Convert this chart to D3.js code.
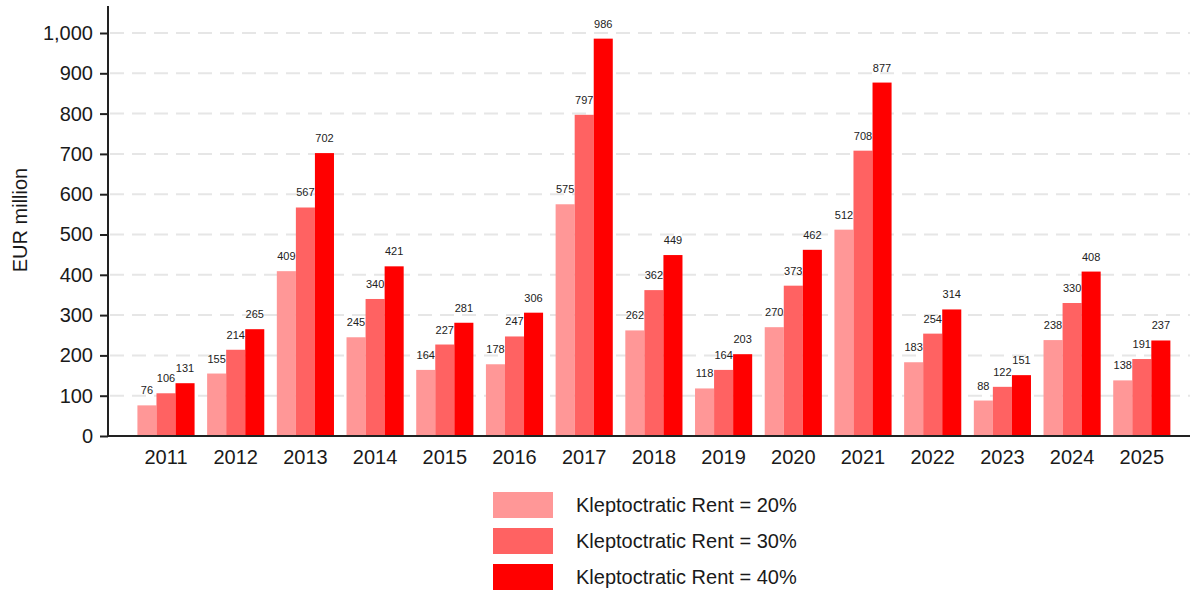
<!DOCTYPE html>
<html>
<head>
<meta charset="utf-8">
<script src="https://cdn.jsdelivr.net/npm/d3@7"></script>
<style>
  body { margin: 0; background: #fff; }
  svg { font-family: Arial, "Liberation Sans", sans-serif; }
</style>
</head>
<body>
<div id="chart"></div>
<script>
const years = ["2011","2012","2013","2014","2015","2016","2017","2018","2019","2020","2021","2022","2023","2024","2025"];
const rent20 = [76,155,409,245,164,178,575,262,118,270,512,183,88,238,138];
const rent30 = [106,214,567,340,227,247,797,362,164,373,708,254,122,330,191];
const rent40 = [131,265,702,421,281,306,986,449,203,462,877,314,151,408,237];
const seriesNames = ["Kleptoctratic Rent = 20%", "Kleptoctratic Rent = 30%", "Kleptoctratic Rent = 40%"];
const colors = ["#ff9797", "#ff6262", "#ff0000"];
const yTicks = [0,100,200,300,400,500,600,700,800,900,1000];

const width = 1191, height = 593;
const axisX = 108, baseY = 436;

const svg = d3.select("#chart").append("svg")
  .attr("width", width)
  .attr("height", height);

const y = d3.scaleLinear().domain([0, 1000]).range([baseY, 33]);

const step = 69.7;
const x = d3.scaleBand()
  .domain(years)
  .range([166 - step / 2, 166 + step * 14.5])
  .paddingInner(0.18)
  .paddingOuter(0.09);

const xSub = d3.scaleBand()
  .domain([0, 1, 2])
  .range([0, x.bandwidth()]);

// gridlines
svg.append("g")
  .selectAll("line")
  .data(yTicks.filter(d => d > 0))
  .enter().append("line")
  .attr("x1", axisX + 2)
  .attr("x2", 1190)
  .attr("y1", d => y(d))
  .attr("y2", d => y(d))
  .attr("stroke", "#e6e6e6")
  .attr("stroke-width", 2)
  .attr("stroke-dasharray", "14,8");

// bars
const series = [rent20, rent30, rent40];
const groups = svg.append("g")
  .selectAll("g")
  .data(years)
  .enter().append("g")
  .attr("transform", d => `translate(${x(d)},0)`);

groups.each(function(year, i) {
  const g = d3.select(this);
  series.forEach((vals, k) => {
    g.append("rect")
      .attr("x", xSub(k))
      .attr("y", y(vals[i]))
      .attr("width", xSub.bandwidth())
      .attr("height", baseY - y(vals[i]))
      .attr("fill", colors[k]);
    g.append("text")
      .attr("x", xSub(k) + xSub.bandwidth() / 2)
      .attr("y", y(vals[i]) - 11)
      .attr("text-anchor", "middle")
      .attr("font-size", 11)
      .attr("fill", "#222")
      .text(vals[i]);
  });
});

// y axis
const yAxis = svg.append("g")
  .attr("transform", `translate(${axisX},0)`)
  .call(d3.axisLeft(y).tickValues(yTicks).tickSize(8).tickFormat(d3.format(",")));
yAxis.select(".domain").remove();
yAxis.selectAll(".tick line").attr("stroke", "#222").attr("stroke-width", 2);
yAxis.selectAll(".tick text")
  .attr("font-size", 20)
  .attr("fill", "#1a1a1a")
  .attr("x", -15)
  .attr("font-family", "Arial, 'Liberation Sans', sans-serif");
svg.append("line")
  .attr("x1", axisX).attr("x2", axisX)
  .attr("y1", 6).attr("y2", baseY + 1)
  .attr("stroke", "#222").attr("stroke-width", 2);

// x axis
const xAxis = svg.append("g")
  .attr("transform", `translate(0,${baseY})`)
  .call(d3.axisBottom(x).tickSize(0).tickPadding(14));
xAxis.select(".domain").remove();
xAxis.selectAll(".tick text")
  .attr("font-size", 20)
  .attr("fill", "#1a1a1a")
  .attr("font-family", "Arial, 'Liberation Sans', sans-serif");
svg.append("line")
  .attr("x1", axisX - 1).attr("x2", 1190)
  .attr("y1", baseY).attr("y2", baseY)
  .attr("stroke", "#222").attr("stroke-width", 2);

// y title
svg.append("text")
  .attr("transform", `translate(27,220) rotate(-90)`)
  .attr("text-anchor", "middle")
  .attr("font-size", 20)
  .attr("fill", "#1a1a1a")
  .text("EUR million");

// legend
const legend = svg.append("g")
  .selectAll("g")
  .data(seriesNames)
  .enter().append("g")
  .attr("transform", (d, i) => `translate(493,${492 + i * 36})`);
legend.append("rect")
  .attr("width", 60)
  .attr("height", 26)
  .attr("fill", (d, i) => colors[i]);
legend.append("text")
  .attr("x", 83)
  .attr("y", 20)
  .attr("font-size", 20)
  .attr("fill", "#1a1a1a")
  .text(d => d);
</script>
</body>
</html>
